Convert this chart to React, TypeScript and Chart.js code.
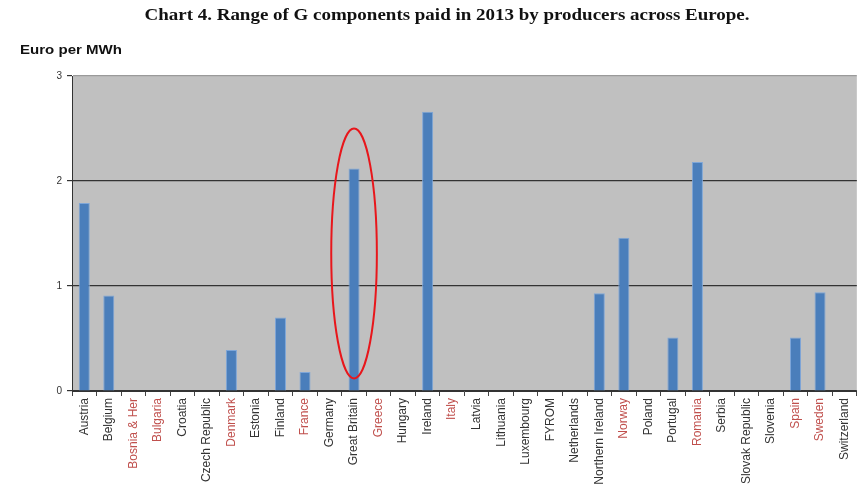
import React, { useEffect, useRef } from "react";
import { Chart, registerables } from "chart.js";

Chart.register(...registerables);

const TITLE = "Chart 4. Range of G components paid in 2013 by producers across Europe.";
const Y_TITLE = "Euro per MWh";

const countries = [
  "Austria", "Belgium", "Bosnia & Her", "Bulgaria", "Croatia", "Czech Republic",
  "Denmark", "Estonia", "Finland", "France", "Germany", "Great Britain", "Greece",
  "Hungary", "Ireland", "Italy", "Latvia", "Lithuania", "Luxembourg", "FYROM",
  "Netherlands", "Northern Ireland", "Norway", "Poland", "Portugal", "Romania",
  "Serbia", "Slovak Republic", "Slovenia", "Spain", "Sweden", "Switzerland",
];

const gValues = [
  1.79, 0.91, 0, 0, 0, 0,
  0.39, 0, 0.7, 0.18, 0, 2.12, 0,
  0, 2.66, 0, 0, 0, 0, 0,
  0, 0.93, 1.46, 0, 0.51, 2.18,
  0, 0, 0, 0.51, 0.94, 0,
];

const redLabels = [
  "Bosnia & Her", "Bulgaria", "Denmark", "France", "Greece", "Italy",
  "Norway", "Romania", "Spain", "Sweden",
];

const yTicks = [0, 1, 2, 3];

const highlighted = "Great Britain";
const highlightRange = [0.12, 2.5];

function stretchedText(ctx: any, text: string, x: number, y: number, targetWidth: number, align: "left" | "center") {
  const w = ctx.measureText(text).width;
  const s = targetWidth / w;
  ctx.save();
  ctx.translate(x, y);
  ctx.scale(s, 1);
  ctx.textAlign = align;
  ctx.fillText(text, 0, 0);
  ctx.restore();
}

export default function App() {
  const ref = useRef<HTMLCanvasElement | null>(null);

  useEffect(() => {
    if (!ref.current) return;
    const decor = {
      id: "decor",
      beforeDraw(chart: any) {
        const { ctx, chartArea } = chart;
        ctx.save();
        ctx.fillStyle = "#c0c0c0";
        ctx.fillRect(chartArea.left, chartArea.top, chartArea.right - chartArea.left, chartArea.bottom - chartArea.top);
        ctx.restore();
      },
      afterDraw(chart: any) {
        const { ctx, scales } = chart;
        ctx.save();
        ctx.fillStyle = "#111";
        ctx.textBaseline = "middle";
        ctx.font = "bold 17px 'Liberation Serif'";
        stretchedText(ctx, TITLE, 447, 16, 605, "center");
        ctx.font = "bold 13px 'Liberation Sans'";
        stretchedText(ctx, Y_TITLE, 20, 50, 102, "left");
        // highlight ellipse
        const i = countries.indexOf(highlighted);
        const cx = scales.x.getPixelForValue(i);
        const cw = scales.x.getPixelForValue(1) - scales.x.getPixelForValue(0);
        const yTop = scales.y.getPixelForValue(highlightRange[1]);
        const yBot = scales.y.getPixelForValue(highlightRange[0]);
        ctx.beginPath();
        ctx.ellipse(cx, (yTop + yBot) / 2, cw * 0.93, (yBot - yTop) / 2, 0, 0, Math.PI * 2);
        ctx.strokeStyle = "#e8161b";
        ctx.lineWidth = 2;
        ctx.stroke();
        ctx.restore();
      },
    };

    const chart = new Chart(ref.current, {
      type: "bar",
      data: {
        labels: countries,
        datasets: [
          {
            data: gValues,
            backgroundColor: "#4a7ebb",
            borderColor: "#7ea6d8",
            borderWidth: 1,
            barPercentage: 0.45,
            categoryPercentage: 1,
          },
        ],
      },
      options: {
        animation: false,
        responsive: false,
        layout: { padding: { top: 76, right: 2, left: 0, bottom: 0 } },
        plugins: { legend: { display: false }, title: { display: false }, tooltip: { enabled: false } },
        scales: {
          x: {
            afterFit(scale: any) { scale.height = 98; },
            border: { display: true, color: "#333", width: 1 },
            grid: {
              offset: true,
              drawOnChartArea: false,
              drawTicks: true,
              tickLength: 5,
              color: "#444",
            },
            ticks: {
              autoSkip: false,
              minRotation: 90,
              maxRotation: 90,
              padding: 2,
              font: { family: "'Liberation Sans'", size: 12 },
              color: (c: any) => (redLabels.includes(countries[c.index]) ? "#c0504d" : "#333"),
            },
          },
          y: {
            min: 0,
            max: 3,
            afterFit(scale: any) { scale.width = 72; },
            afterBuildTicks(scale: any) { scale.ticks = yTicks.map((v) => ({ value: v })); },
            border: { display: true, color: "#333", width: 1 },
            grid: {
              color: (c: any) => (c.tick && c.tick.value === 3 ? "#9a9a9a" : "#333"),
              lineWidth: 1.2,
              tickLength: 5,
              tickColor: "#333",
            },
            ticks: {
              padding: 5,
              font: { family: "'Liberation Sans'", size: 10 },
              color: "#333",
            },
          },
        },
      },
      plugins: [decor],
    });
    return () => chart.destroy();
  }, []);

  return (
    <div style={{ position: "fixed", left: 0, top: 0, width: 861, height: 489, background: "#fff" }}>
      <canvas ref={ref} width={861} height={489} style={{ width: 861, height: 489, display: "block" }} />
    </div>
  );
}
